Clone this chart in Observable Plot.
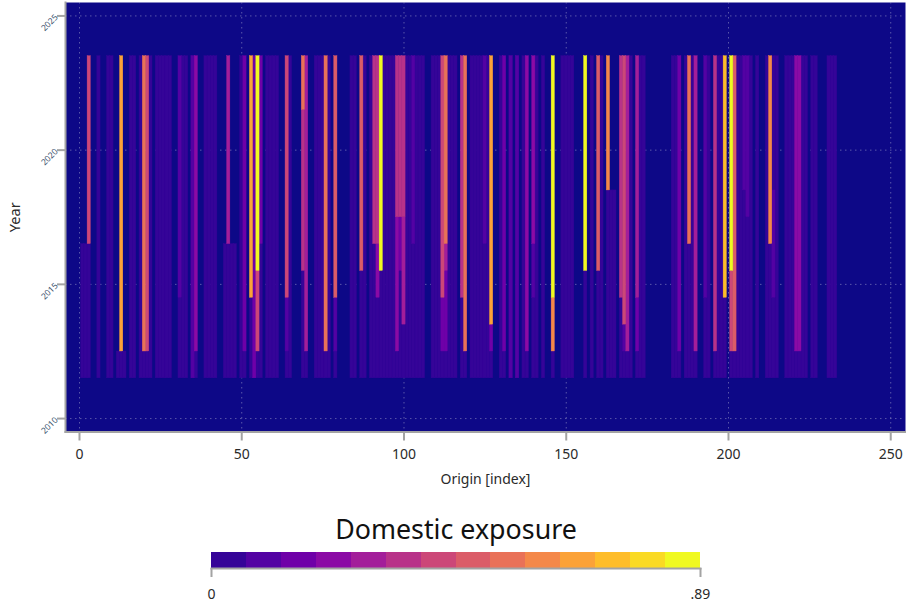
<!DOCTYPE html>
<html><head><meta charset="utf-8">
<script src="https://cdn.jsdelivr.net/npm/d3@7"></script>
<script src="https://cdn.jsdelivr.net/npm/@observablehq/plot@0.6"></script>
<style>html,body{margin:0;padding:0;background:#fff}svg{display:block}</style>
</head><body><div id="chart"></div>
<script>
// origins with low exposure in every year 2012-2023
const fullOrigins = [6,9,10,16,17,19,22,24,25,26,27,28,32,33,35,39,40,41,42,50,54,58,59,60,61,65,73,74,75,77,84,85,88,90,94,95,96,97,101,102,104,105,106,109,110,111,114,115,116,121,122,123,124,126,130,133,135,137,141,143,149,150,151,152,158,161,170,173,174,183,184,187,189,194,197,198,203,204,207,209,212,215,218,219,220,223,224,226,227,231,232,233];
const fullExposure = 0.04;
// origins with low exposure in early years only: [origin, last year]
const shortOrigins = [1,2,45,47,48,164,165];
const shortLastYear = [2016,2016,2016,2016,2016,2018,2018];
// origins active in 2012 only
const firstYearOrigins = [12,14];
// runs of higher exposure
const runOrigin = [3,3,13,13,20,20,21,21,31,31,35,36,36,46,46,51,51,53,53,54,55,55,55,56,56,64,64,64,69,69,69,70,70,76,76,79,79,79,87,87,91,91,92,92,92,93,93,98,98,98,99,99,99,100,100,100,103,103,112,112,112,113,113,113,113,118,118,119,119,125,125,127,127,127,131,131,133,135,138,138,140,140,140,146,146,146,156,156,160,160,163,163,167,167,168,168,168,169,169,172,172,172,185,185,188,188,190,190,193,193,196,196,199,199,201,201,201,202,202,205,205,206,206,213,213,214,214,214,221,221,222,222];
const runFrom  = [2012,2017,2012,2013,2012,2013,2012,2013,2012,2015,2012,2012,2013,2012,2017,2012,2013,2012,2015,2012,2012,2013,2016,2012,2017,2012,2013,2015,2012,2016,2022,2012,2013,2012,2013,2012,2013,2015,2012,2016,2012,2017,2012,2015,2017,2012,2016,2012,2013,2018,2012,2016,2018,2012,2014,2018,2012,2017,2012,2013,2015,2012,2013,2016,2017,2012,2015,2012,2013,2012,2017,2012,2013,2014,2012,2013,2012,2012,2012,2013,2012,2015,2017,2012,2013,2015,2012,2016,2012,2016,2012,2019,2012,2015,2012,2013,2014,2012,2013,2012,2013,2015,2012,2013,2012,2017,2012,2013,2012,2015,2012,2013,2012,2015,2012,2013,2016,2012,2013,2012,2019,2012,2018,2012,2017,2012,2015,2019,2012,2013,2012,2013];
const runTo    = [2016,2023,2012,2023,2012,2023,2012,2023,2014,2023,2023,2012,2023,2016,2023,2012,2023,2014,2023,2023,2015,2015,2023,2016,2023,2012,2014,2023,2015,2021,2023,2012,2023,2012,2023,2012,2014,2023,2015,2023,2016,2023,2014,2016,2023,2015,2023,2012,2017,2023,2015,2017,2023,2013,2017,2023,2016,2023,2012,2014,2023,2012,2015,2016,2023,2014,2023,2012,2023,2016,2023,2012,2013,2023,2012,2023,2023,2023,2012,2023,2014,2016,2023,2012,2014,2023,2015,2023,2015,2023,2018,2023,2014,2023,2012,2013,2023,2012,2023,2012,2014,2023,2012,2023,2016,2023,2012,2023,2014,2023,2012,2023,2014,2023,2012,2015,2023,2012,2023,2018,2023,2017,2023,2016,2023,2014,2018,2023,2012,2023,2012,2023];
const runValue = [.04,.44,.04,.66,.04,.55,.04,.44,.04,.1,.1,.04,.24,.04,.31,.04,.17,.04,.68,.17,.04,.44,.86,.04,.17,.04,.1,.43,.04,.35,.55,.04,.3,.04,.55,.04,.1,.5,.04,.47,.04,.36,.04,.24,.36,.04,.86,.04,.24,.37,.04,.17,.37,.04,.3,.37,.04,.12,.04,.17,.42,.04,.17,.3,.55,.04,.37,.04,.55,.04,.1,.04,.17,.64,.04,.17,.1,.1,.04,.2,.04,.1,.24,.04,.6,.86,.04,.86,.04,.5,.04,.6,.04,.37,.04,.1,.42,.04,.3,.04,.17,.3,.04,.17,.04,.55,.04,.3,.04,.1,.04,.36,.04,.74,.04,.44,.86,.04,.5,.04,.1,.04,.1,.04,.62,.04,.1,.04,.04,.24,.04,.24];

const years = [2010,2015,2020,2025];
const originTicks = [0,50,100,150,200,250];
const legendMax = 0.89, legendBins = 14;
const legendTickValues = [0,0.89];
const legendTickLabels = ["0",".89"];
const legendTitle = "Domestic exposure";
const xLabel = "Origin [index]", yLabel = "Year";

const cells = [];
fullOrigins.forEach(o => cells.push({o, from:2012, to:2023, v:fullExposure}));
shortOrigins.forEach((o,i) => cells.push({o, from:2012, to:shortLastYear[i], v:fullExposure}));
firstYearOrigins.forEach(o => cells.push({o, from:2012, to:2012, v:fullExposure}));
runOrigin.forEach((o,i) => cells.push({o, from:runFrom[i], to:runTo[i], v:runValue[i]}));
cells.sort((a,b) => a.v - b.v);

const step = legendMax/legendBins;
const colors = d3.quantize(d3.interpolatePlasma, legendBins+1);
const color = {type:"threshold", domain:d3.range(1,legendBins).map(i=>i*step), range:colors.slice(1)};
const FONT = "'Noto Sans', sans-serif", INK="#2a2a2a", AX="#a3a3a3";

const main = Plot.plot({
  width:906, height:490, marginLeft:65, marginRight:1, marginTop:2, marginBottom:58.5,
  style:{fontFamily:FONT, background:"transparent", overflow:"visible"},
  x:{domain:[-4.31,254.55]}, y:{domain:[2009.5,2025.5]}, color,
  marks:[
    Plot.frame({fill:colors[0], stroke:null}),
    Plot.gridX(originTicks,{stroke:"#a8a8d0", strokeOpacity:.5, strokeDasharray:"1.5 3.5"}),
    Plot.gridY(years,{stroke:"#a8a8d0", strokeOpacity:.5, strokeDasharray:"1.5 3.5"}),
    Plot.rect(cells,{x1:d=>d.o-.5, x2:d=>d.o+.5, y1:d=>d.from-.5, y2:d=>d.to+.5, fill:"v", stroke:"v", strokeWidth:.4}),
    Plot.frame({anchor:"left", stroke:AX, strokeWidth:2}),
    Plot.frame({anchor:"bottom", stroke:AX, strokeWidth:2}),
    Plot.axisX(originTicks,{stroke:AX, strokeWidth:2, tickSize:9, tickPadding:8, fontSize:14, fill:INK, label:xLabel, labelAnchor:"center", labelArrow:"none", labelOffset:52, tickFormat:d=>String(d)}),
    Plot.axisY(years,{stroke:AX, strokeWidth:2, tickSize:8, tickPadding:1, tickRotate:-45, fontSize:8.5, fill:"#3d5470", tickFormat:d=>String(d), label:null}),
    Plot.text([yLabel],{frameAnchor:"left", dx:-50, rotate:-90, textAnchor:"middle", fontSize:14.5, fill:INK, text:d=>d})
  ]
});

const bins = d3.range(legendBins).map(i=>({a:i*step, b:(i+1)*step, v:(i+.5)*step}));
const legend = Plot.plot({
  width:906, height:115, marginLeft:211, marginRight:206, marginTop:62, marginBottom:37,
  style:{fontFamily:FONT, background:"transparent", overflow:"visible"},
  x:{domain:[0,legendMax]}, color,
  marks:[
    Plot.rect(bins,{x1:"a", x2:"b", fill:"v", shapeRendering:"crispEdges"}),
    Plot.frame({anchor:"bottom", stroke:AX, strokeWidth:2}),
    Plot.axisX(legendTickValues,{stroke:AX, strokeWidth:2, tickSize:9, tickPadding:12, fontSize:14, fill:INK, label:null, tickFormat:(d,i)=>legendTickLabels[i]}),
    Plot.text([legendTitle],{frameAnchor:"top", dy:-22, fontSize:26.8, fill:"#111", lineAnchor:"middle", text:d=>d})
  ]
});
const root=document.getElementById("chart");
root.append(main, legend);
</script></body></html>
